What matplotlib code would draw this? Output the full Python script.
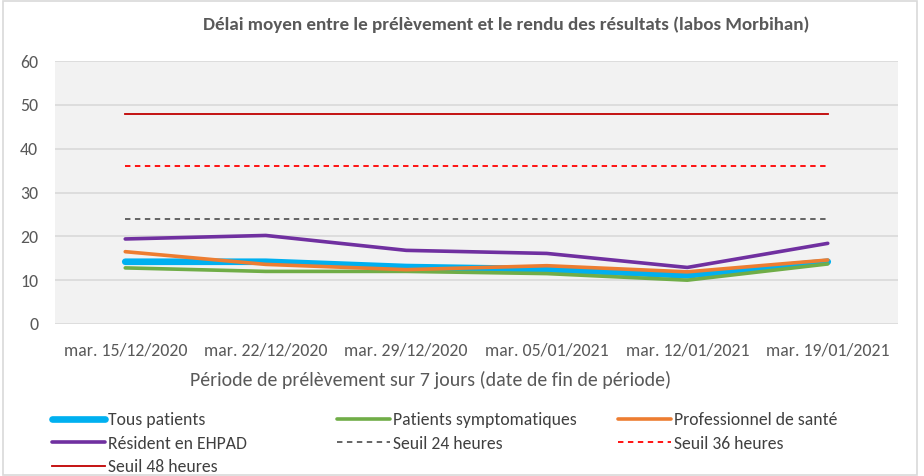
import matplotlib
matplotlib.use("Agg")
import numpy as np
from matplotlib import pyplot as plt
from matplotlib.patches import Rectangle

plt.rcParams['font.family'] = ['Carlito', 'Lato', 'DejaVu Sans']

dates = ['mar. 15/12/2020', 'mar. 22/12/2020', 'mar. 29/12/2020',
         'mar. 05/01/2021', 'mar. 12/01/2021', 'mar. 19/01/2021']
tous = [14.2, 14.2, 13.0, 12.5, 11.1, 14.2]
sympto = [12.8, 12.0, 12.0, 11.5, 10.0, 13.7]
pro_sante = [16.5, 13.6, 12.4, 13.3, 11.9, 14.6]
ehpad = [19.4, 20.2, 16.8, 16.1, 12.9, 18.4]
seuil_24 = [24, 24, 24, 24, 24, 24]
seuil_36 = [36, 36, 36, 36, 36, 36]
seuil_48 = [48, 48, 48, 48, 48, 48]

txt = '#595959'

fig = plt.figure(figsize=(9.24, 4.76), dpi=100)
fig.patches.append(Rectangle((3 / 924, 0.002), 914 / 924, 0.996, transform=fig.transFigure,
                             fill=False, edgecolor='#d9d9d9', linewidth=1.2))
ax = fig.add_axes([55 / 924, 1 - 324 / 476, (898 - 55) / 924, (324 - 61) / 476])
ax.set_facecolor('#f2f2f2')

x = np.arange(len(dates))
l_tous, = ax.plot(x, tous, color='#00b0f0', lw=4.8, solid_capstyle='round', label='Tous patients')
l_sym, = ax.plot(x, sympto, color='#70ad47', lw=2.6, solid_capstyle='round', label='Patients symptomatiques')
l_pro, = ax.plot(x, pro_sante, color='#ed7d31', lw=2.6, solid_capstyle='round', label='Professionnel de santé')
l_ehp, = ax.plot(x, ehpad, color='#7030a0', lw=2.6, solid_capstyle='round', label='Résident en EHPAD')
l_24, = ax.plot(x, seuil_24, color='#595959', lw=1.3, ls=(0, (3, 2.5)), label='Seuil 24 heures')
l_36, = ax.plot(x, seuil_36, color='#ff0000', lw=1.3, ls=(0, (3, 2.5)), label='Seuil 36 heures')
l_48, = ax.plot(x, seuil_48, color='#c00000', lw=1.3, label='Seuil 48 heures')

ax.set_xlim(-0.5, len(dates) - 0.5)
ax.set_ylim(0, 60)
ax.set_yticks(range(0, 61, 10))
ax.set_xticks(x)
ax.set_xticklabels(dates)
ax.grid(axis='y', color='#d9d9d9', lw=1.2)
ax.set_axisbelow(True)
for s in ax.spines.values():
    s.set_visible(False)
ax.tick_params(length=0, colors=txt, labelsize=12.8)
ax.tick_params(axis='y', pad=12)
ax.tick_params(axis='x', pad=13)

fig.text(506 / 924, 1 - 25 / 476, 'Délai moyen entre le prélèvement et le rendu des résultats (labos Morbihan)',
         ha='center', va='center', fontsize=13.7, fontweight='bold', color=txt)
fig.text(431 / 924, 1 - 380 / 476, 'Période de prélèvement sur 7 jours (date de fin de période)',
         ha='center', va='center', fontsize=14.3, color=txt)

# legend: three columns laid out like Excel's fixed-width grid
columns = [([l_tous, l_ehp, l_48], 52), ([l_sym, l_24], 337), ([l_pro, l_36], 618)]
for handles, x0 in columns:
    fig.legend(handles=handles, labels=[h.get_label() for h in handles],
               loc='upper left', bbox_to_anchor=(x0 / 924, 1 - 412 / 476), ncol=1, frameon=False,
               fontsize=12.7, labelcolor='#404040', handlelength=3.0, handletextpad=0.2,
               labelspacing=0.43, borderaxespad=0, borderpad=0)

fig.savefig('out.png', dpi=100)
